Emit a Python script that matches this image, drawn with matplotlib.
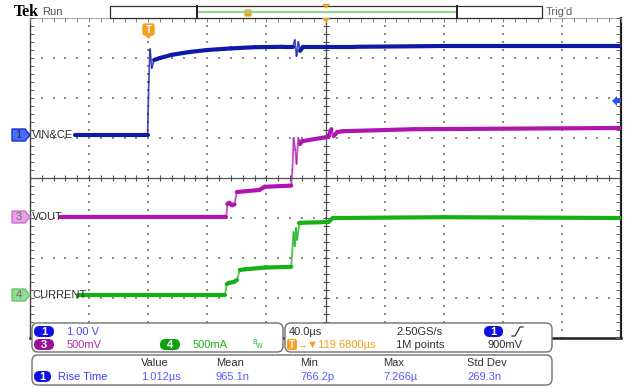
import numpy as np
import matplotlib
matplotlib.use('Agg')
import matplotlib.pyplot as plt
from matplotlib.patches import FancyBboxPatch, Polygon, Rectangle
from matplotlib.collections import LineCollection

# waveform breakpoints, x in divisions (40 us/div), y in divisions
blue_t = [0.76, 1.99, 2.01, 2.03, 2.06, 2.10, 2.20, 2.40, 2.70, 3.00, 3.40, 3.80, 4.30,
          4.45, 4.48, 4.51, 4.54, 4.57, 4.62, 5.50, 7.00, 10.0]
blue_v = [1.075, 1.075, 2.40, 3.22, 2.75, 2.95, 3.00, 3.08, 3.15, 3.20, 3.24, 3.27, 3.28,
          3.28, 3.45, 3.05, 3.40, 3.18, 3.28, 3.28, 3.30, 3.30]

mag_t = [0.51, 3.32, 3.34, 3.37, 3.42, 3.46, 3.50, 3.88, 3.97, 4.42, 4.44, 4.46, 4.49,
         4.51, 4.54, 4.57, 4.60, 5.05, 5.10, 5.14, 5.20, 5.30, 6.50, 10.0]
mag_v = [-0.975, -0.975, -0.65, -0.62, -0.68, -0.66, -0.35, -0.30, -0.22, -0.19, 0.20, 1.00,
         0.70, 0.35, 1.00, 0.85, 0.92, 1.03, 1.22, 1.05, 1.15, 1.17, 1.22, 1.25]

grn_t = [0.81, 3.30, 3.33, 3.37, 3.45, 3.50, 3.55, 3.65, 3.97, 4.42, 4.46, 4.48, 4.50,
         4.52, 4.56, 4.58, 5.05, 5.12, 5.20, 7.0, 10.0]
grn_v = [-2.925, -2.925, -2.65, -2.62, -2.60, -2.55, -2.30, -2.28, -2.24, -2.22, -1.35, -1.70,
         -1.25, -1.55, -1.12, -1.12, -1.10, -1.00, -1.00, -0.98, -1.00]

channels = [("1", "VIN&CE", blue_v[0]), ("3", "VOUT", mag_v[0]), ("4", "CURRENT", grn_v[0])]

meas_cols = ["Value", "Mean", "Min", "Max", "Std Dev"]
meas_vals = ["1.012µs", "965.1n", "766.2p", "7.266µ", "269.3n"]

BLUE = "#0d1aa6"
MAG = "#b014b0"
GRN = "#14b014"
ORANGE = "#f5a020"
FONT = "Liberation Sans"

W, H = 625, 387
fig = plt.figure(figsize=(6.25, 3.87), dpi=100)
ax = fig.add_axes([30 / W, 1 - 338 / H, 591 / W, 320 / H])
ax.set_xlim(0, 10)
ax.set_ylim(-4, 4)
ax.axis("off")

# graticule dots
xs = np.arange(0, 10.001, 0.2)
ys = np.arange(-4, 4.001, 0.2)
for yy in [-3, -2, -1, 1, 2, 3]:
    ax.scatter(xs, np.full_like(xs, yy), s=0.9, marker="s", color="#8a8a8a", lw=0, zorder=1)
for xx in [1, 2, 3, 4, 6, 7, 8, 9]:
    ax.scatter(np.full_like(ys, xx), ys, s=0.9, marker="s", color="#8a8a8a", lw=0, zorder=1)

# centre cross with minor ticks
ax.axhline(0, color="#505050", lw=0.9, zorder=2)
ax.axvline(5, color="#505050", lw=0.9, zorder=2)
ax.plot(xs, np.zeros_like(xs), ls="none", marker="|", ms=5, mew=0.8, color="#505050", zorder=2)
ax.plot(np.full_like(ys, 5), ys, ls="none", marker="_", ms=5, mew=0.8, color="#505050", zorder=2)

# frame
ax.plot([0, 0], [-4, 4], color="#404040", lw=1.0, clip_on=False, zorder=2)
ax.plot([10, 10], [-4, 4], color="#202020", lw=1.6, clip_on=False, zorder=2)
ax.plot([0, 10], [-4, -4], color="#202020", lw=1.8, clip_on=False, zorder=2)
ax.plot([0, 10], [4, 4], color="#a8a8a8", lw=0.8, clip_on=False, zorder=2)
ax.plot(np.full_like(ys, 0.03), ys, ls="none", marker="_", ms=3, mew=0.7, color="#606060", zorder=2)
ax.plot(np.full_like(ys, 9.95), ys, ls="none", marker="_", ms=3, mew=0.7, color="#606060", zorder=2)
ax.plot(xs, np.full_like(xs, 3.95), ls="none", marker="|", ms=3, mew=0.7, color="#808080", zorder=2)


def draw_trace(t, v, color):
    pts = np.column_stack([t, v])
    segs = np.stack([pts[:-1], pts[1:]], axis=1)
    dt = np.maximum(np.diff(t), 1e-6)
    steep = np.abs(np.diff(v)) / dt > 4
    # fast edges are drawn thin and faint like on the scope screen
    lws = np.where(steep, 1.3, 3.0)
    alphas = np.where(steep, 0.75, 1.0)
    cols = [matplotlib.colors.to_rgba(color, a) for a in alphas]
    lc = LineCollection(segs, colors=cols, linewidths=lws, capstyle="round",
                        joinstyle="round", zorder=5)
    ax.add_collection(lc)


draw_trace(blue_t, blue_v, BLUE)
draw_trace(mag_t, mag_v, MAG)
draw_trace(grn_t, grn_v, GRN)

# overlay in pixel coordinates
ov = fig.add_axes([0, 0, 1, 1], zorder=10)
ov.set_xlim(0, W)
ov.set_ylim(H, 0)
ov.axis("off")
ov.patch.set_alpha(0)


def py(v):
    return 178 - v * 40


# channel markers
marker_style = {"1": ("#4a6cff", "#1a30d0", "#303030"),
                "3": ("#e6a0e6", "#d070d0", "#707070"),
                "4": ("#90dc90", "#70c070", "#707070")}
for num, label, base in channels:
    fc, ec, tc = marker_style[num]
    y0 = py(base)
    ov.add_patch(Polygon([(12, y0 - 6), (25, y0 - 6), (30, y0), (25, y0 + 6), (12, y0 + 6)],
                         closed=True, fc=fc, ec=ec, lw=1))
    ov.text(18.5, y0 + 0.5, num, ha="center", va="center", fontsize=8, color=tc, family=FONT)
    ov.text(32, y0 + 0.5, label, ha="left", va="center", fontsize=8, color="#303030", family=FONT)

# header
ov.text(14, 12, "Tek", fontsize=11.5, fontweight="bold", family="Liberation Serif",
        ha="left", va="center", color="black")
ov.text(42, 12, "Run", fontsize=8, family=FONT, ha="left", va="center", color="#505050")
ov.add_patch(Rectangle((110, 6), 432, 12, fc="white", ec="#303030", lw=0.9))
ov.plot([197, 456], [12, 12], color="#90d890", lw=1.6)
ov.plot([197, 197], [6, 18], color="#202020", lw=1.4)
ov.plot([457, 457], [6, 18], color="#202020", lw=1.4)
ov.text(546, 12, "Trig'd", fontsize=8, family=FONT, ha="left", va="center", color="#606060")
ov.add_patch(FancyBboxPatch((245, 10), 6, 6, boxstyle="round,pad=0,rounding_size=1",
                            fc=ORANGE, ec=ORANGE))
ov.add_patch(Polygon([(322, 4), (330, 4), (326, 9)], closed=True, fc=ORANGE, ec="none"))
ov.add_patch(Polygon([(322, 18), (330, 18), (326, 23)], closed=True, fc=ORANGE, ec="none"))

# trigger marker and trigger level
ov.add_patch(FancyBboxPatch((143, 24), 11, 11, boxstyle="round,pad=0,rounding_size=2",
                            fc=ORANGE, ec=ORANGE))
ov.add_patch(Polygon([(145, 35), (152, 35), (148.5, 39)], closed=True, fc=ORANGE, ec="none"))
ov.text(148.5, 30, "T", fontsize=7, color="white", fontweight="bold", family=FONT,
        ha="center", va="center")
ov.add_patch(Polygon([(612, 101), (617, 96), (617, 99), (621, 99), (621, 103), (617, 103),
                      (617, 106)], closed=True, fc="#3050ff", ec="none"))

# info boxes
for x0, y0, w, h in [(32, 323, 251, 29), (285, 323, 267, 29), (32, 355, 520, 30)]:
    ov.add_patch(FancyBboxPatch((x0, y0), w, h, boxstyle="round,pad=0,rounding_size=6",
                                fc="white", ec="#707070", lw=1.0))


def oval(x0, yc, w, color, txt):
    ov.add_patch(FancyBboxPatch((x0, yc - 5.5), w, 11, boxstyle="round,pad=0,rounding_size=5.5",
                                fc=color, ec="none"))
    ov.text(x0 + w / 2, yc + 0.5, txt, fontsize=8, color="white", fontweight="bold",
            family=FONT, ha="center", va="center")


def label(x, y, s, color, size=8):
    ov.text(x, y, s, fontsize=size, color=color, family=FONT, ha="left", va="center")


oval(34, 331.5, 20, "#1010e0", "1")
label(67, 332, "1.00 V", "#4646ff")
oval(34, 344.5, 20, "#9a129a", "3")
label(67, 345, "500mV", "#b030b0")
oval(160, 344.5, 20, "#10a010", "4")
label(193, 345, "500mA", "#20b020")
label(252, 343, "B", "#20b020", 5)
label(256, 347, "W", "#20b020", 5)

label(289, 332, "40.0µs", "#303030")
label(396, 332, "2.50GS/s", "#303030")
oval(484, 331.5, 19, "#1010e0", "1")
ov.plot([512, 515, 520, 523], [336, 336, 327, 327], color="#303030", lw=0.9)
ov.add_patch(FancyBboxPatch((287, 339), 10, 11, boxstyle="round,pad=0,rounding_size=2",
                            fc=ORANGE, ec="none"))
ov.text(292, 345, "T", fontsize=7, color="white", fontweight="bold", family=FONT,
        ha="center", va="center")
ov.text(297, 345, "→▼119.6800µs", fontsize=8, color=ORANGE, family=["Liberation Sans", "DejaVu Sans"],
        ha="left", va="center")
label(396, 345, "1M points", "#303030")
label(488, 345, "900mV", "#303030")

col_x = [141, 216, 300, 383, 467]
for x, name, val in zip(col_x, meas_cols, meas_vals):
    label(x, 363, name, "#303030")
    label(x, 377, val, "#5a5aff")
oval(34, 376.5, 17, "#1010e0", "1")
label(58, 377, "Rise Time", "#3c3cff")

fig.savefig("out.png", dpi=100)
